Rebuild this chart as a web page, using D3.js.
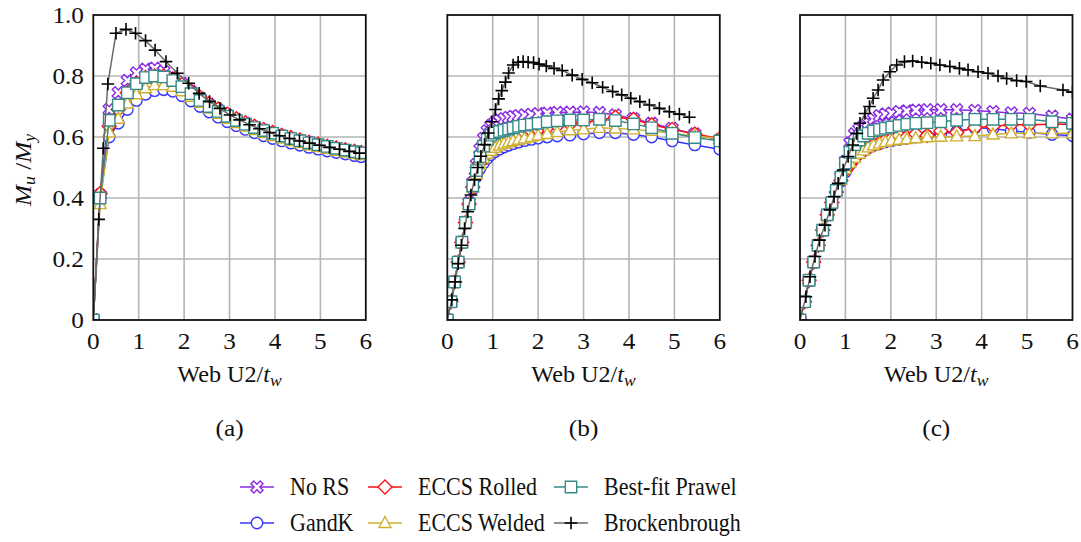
<!DOCTYPE html>
<html>
<head>
<meta charset="utf-8">
<script src="https://cdn.jsdelivr.net/npm/d3@7"></script>
<style>
  body { margin: 0; background: #fff; }
  text { font-family: "Liberation Serif", "Times New Roman", serif; fill: #111; }
</style>
</head>
<body>
<div id="chart"></div>
<script>
// ---------------- data ----------------
var xTicks = [0, 1, 2, 3, 4, 5, 6];
var yTicks = [0, 0.2, 0.4, 0.6, 0.8, 1.0];
var yTickLabels = ["0", "0.2", "0.4", "0.6", "0.8", "1.0"];
var panelLabels = ["(a)", "(b)", "(c)"];
var seriesNames = ["No RS", "GandK", "ECCS Rolled", "ECCS Welded", "Best-fit Prawel", "Brockenbrough"];

// panel (a)
var xA = [0, .15, .35, .55, .75, .95, 1.15, 1.35, 1.55, 1.75, 1.95, 2.15, 2.35, 2.55, 2.75, 2.95, 3.15, 3.35, 3.55, 3.75, 3.95, 4.15, 4.35, 4.55, 4.75, 4.95, 5.15, 5.35, 5.55, 5.75, 5.9];
var noRsA   = [0, .41, .69, .745, .785, .81, .822, .825, .815, .797, .775, .75, .727, .707, .689, .672, .657, .644, .632, .622, .612, .603, .595, .588, .581, .574, .568, .562, .556, .55, .546];
var gandkA  = [0, .40, .60, .645, .69, .72, .74, .752, .755, .75, .735, .718, .70, .682, .665, .65, .637, .625, .614, .604, .595, .587, .58, .573, .566, .56, .554, .549, .544, .539, .535];
var rolledA = [0, .415, .635, .69, .745, .775, .795, .80, .80, .79, .772, .752, .73, .71, .692, .675, .66, .647, .635, .625, .615, .606, .598, .59, .583, .576, .57, .564, .558, .553, .549];
var weldedA = [0, .38, .615, .66, .71, .74, .76, .77, .77, .765, .75, .732, .712, .693, .676, .66, .646, .634, .623, .613, .603, .595, .587, .58, .573, .567, .561, .555, .55, .545, .541];
var bestA   = [0, .40, .655, .705, .745, .775, .795, .80, .797, .785, .765, .742, .72, .70, .684, .668, .654, .642, .631, .621, .612, .603, .595, .588, .581, .575, .569, .563, .557, .552, .548];
var xBrockA = [0, .12, .22, .32, .5, .72, .93, 1.15, 1.36, 1.6, 1.85, 2.1, 2.33, 2.56, 2.79, 3.01, 3.22, 3.44, 3.66, 3.88, 4.1, 4.32, 4.54, 4.76, 4.98, 5.2, 5.42, 5.64, 5.86];
var brockA  = [0, .33, .563, .774, .94, .953, .94, .916, .885, .847, .809, .776, .743, .716, .694, .672, .656, .64, .627, .615, .604, .595, .587, .58, .573, .566, .56, .553, .547];

// panel (b)
var xB = [0, .08, .16, .24, .32, .4, .48, .56, .64, .72, .8, .88, .96, 1.05, 1.15, 1.25, 1.35, 1.45, 1.57, 1.7, 1.85, 2.0, 2.2, 2.42, 2.7, 3.0, 3.35, 3.7, 4.1, 4.5, 4.95, 5.45, 6.0];
var noRsB   = [0, .06, .125, .19, .255, .32, .385, .45, .51, .56, .595, .62, .637, .648, .655, .66, .664, .667, .67, .672, .674, .676, .678, .68, .681, .682, .68, .672, .66, .645, .628, .61, .59];
var gandkB  = [0, .06, .125, .19, .255, .32, .38, .43, .47, .497, .515, .53, .542, .552, .56, .567, .573, .578, .583, .588, .592, .596, .60, .603, .606, .61, .614, .614, .608, .60, .587, .574, .56];
var rolledB = [0, .06, .125, .19, .255, .32, .38, .435, .48, .515, .545, .56, .57, .58, .588, .595, .60, .605, .61, .615, .62, .624, .63, .636, .642, .648, .655, .665, .658, .64, .625, .61, .595];
var weldedB = [0, .06, .125, .19, .255, .32, .38, .435, .478, .51, .53, .545, .555, .565, .572, .578, .583, .587, .591, .595, .60, .605, .61, .616, .622, .625, .63, .628, .625, .62, .612, .603, .595];
var bestB   = [0, .06, .125, .19, .255, .32, .38, .44, .49, .535, .57, .592, .606, .613, .618, .622, .626, .63, .635, .639, .642, .645, .65, .653, .656, .656, .658, .654, .643, .63, .612, .598, .587];
var xBrockB = [0, .1, .17, .24, .31, .38, .45, .52, .6, .67, .74, .82, .9, .98, 1.06, 1.13, 1.2, 1.28, 1.35, 1.45, 1.56, 1.67, 1.78, 1.9, 2.02, 2.18, 2.35, 2.53, 2.75, 2.97, 3.19, 3.42, 3.64, 3.84, 4.04, 4.24, 4.45, 4.67, 4.89, 5.11, 5.33];
var brockB  = [0, .066, .125, .185, .245, .30, .355, .41, .46, .50, .537, .575, .613, .65, .69, .725, .752, .78, .81, .836, .845, .847, .845, .844, .839, .833, .825, .818, .803, .789, .778, .763, .749, .738, .727, .716, .705, .694, .683, .675, .665];

// panel (c)
var xC = [0, .1, .2, .3, .4, .5, .6, .7, .8, .9, 1.0, 1.1, 1.2, 1.3, 1.4, 1.5, 1.62, 1.75, 1.88, 2.02, 2.18, 2.35, 2.55, 2.8, 3.1, 3.45, 3.85, 4.25, 4.65, 5.05, 5.55, 6.0];
var noRsC   = [0, .06, .13, .19, .245, .295, .345, .385, .425, .47, .52, .58, .61, .625, .636, .648, .66, .67, .675, .678, .683, .685, .688, .689, .689, .689, .687, .683, .679, .677, .668, .658];
var gandkC  = [0, .06, .13, .19, .245, .295, .345, .385, .42, .455, .485, .51, .53, .545, .555, .564, .572, .578, .584, .588, .592, .596, .60, .604, .61, .618, .63, .628, .62, .615, .608, .604];
var rolledC = [0, .06, .13, .19, .245, .295, .345, .385, .42, .457, .49, .51, .53, .545, .556, .565, .575, .58, .59, .595, .605, .60, .61, .605, .62, .615, .63, .635, .64, .64, .642, .642];
var weldedC = [0, .06, .13, .19, .245, .295, .345, .385, .423, .46, .495, .515, .532, .545, .556, .566, .573, .579, .584, .588, .591, .593, .596, .599, .601, .602, .603, .608, .612, .612, .612, .612];
var bestC   = [0, .06, .13, .19, .245, .295, .345, .385, .425, .468, .515, .55, .575, .59, .603, .612, .62, .625, .629, .633, .638, .642, .645, .647, .65, .655, .658, .658, .658, .658, .65, .645];
var xBrockC = [0, .13, .22, .33, .43, .55, .66, .75, .84, .95, 1.06, 1.16, 1.25, 1.32, 1.43, 1.53, 1.61, 1.72, 1.83, 1.98, 2.13, 2.3, 2.48, 2.68, 2.88, 3.08, 3.3, 3.51, 3.7, 3.92, 4.14, 4.36, 4.55, 4.77, 4.98, 5.29, 5.79, 6.0];
var brockC  = [0, .076, .142, .208, .262, .311, .361, .404, .448, .492, .536, .574, .612, .645, .677, .70, .727, .754, .787, .814, .836, .847, .849, .845, .842, .836, .831, .825, .82, .814, .809, .80, .792, .785, .782, .767, .754, .747];

var panelData = [
  { xs: xA, xb: xBrockA, ys: [noRsA, gandkA, rolledA, weldedA, bestA], yb: brockA },
  { xs: xB, xb: xBrockB, ys: [noRsB, gandkB, rolledB, weldedB, bestB], yb: brockB },
  { xs: xC, xb: xBrockC, ys: [noRsC, gandkC, rolledC, weldedC, bestC], yb: brockC }
];

// ---------------- styles ----------------
var colors = ["#8a2be2", "#3535ff", "#ff1010", "#d0b030", "#368a88", "#000000"];
var lineColors = ["#8a2be2", "#3535ff", "#ff1010", "#d0b030", "#368a88", "#6a6a6a"];

// filled "X" marker outline (rotated plus)
function xMarkerPath(a, w) {
  var pts = [[-w,-a],[w,-a],[w,-w],[a,-w],[a,w],[w,w],[w,a],[-w,a],[-w,w],[-a,w],[-a,-w],[-w,-w]];
  var c = Math.SQRT1_2;
  return "M" + pts.map(function(p){ return [(p[0]-p[1])*c, (p[0]+p[1])*c].join(","); }).join("L") + "Z";
}
var markerPaths = [
  xMarkerPath(6.5, 2),
  null,
  "M0,-7L7,0L0,7L-7,0Z",
  "M0,-6.5L6,4.5L-6,4.5Z",
  "M-5.7,-5.7H5.7V5.7H-5.7Z",
  "M-6.3,0H6.3M0,-6.3V6.3"
];

function drawMarker(sel, i) {
  if (i === 1) {
    sel.append("circle").attr("r", 5.7)
      .attr("fill", "#fff").attr("stroke", colors[i]).attr("stroke-width", 1.4);
  } else {
    sel.append("path").attr("d", markerPaths[i])
      .attr("fill", i === 5 ? "none" : "#fff")
      .attr("stroke", colors[i]).attr("stroke-width", i === 5 ? 1.6 : 1.4);
  }
}

// ---------------- layout ----------------
var W = 1081, H = 542;
var plotTop = 15, plotBottom = 320, pw = 272.5;
var lefts = [93.3, 447.3, 800];
var stretch = 1.1;

var svg = d3.select("#chart").append("svg")
  .attr("width", W).attr("height", H);

function stretchedText(g, x, y, anchor, size) {
  return g.append("text")
    .attr("transform", "translate(" + x + "," + y + ") scale(" + stretch + ",1.04)")
    .attr("text-anchor", anchor)
    .style("font-size", size + "px");
}

panelData.forEach(function(pd, p) {
  var x = d3.scaleLinear().domain([0, 6]).range([lefts[p], lefts[p] + pw]);
  var y = d3.scaleLinear().domain([0, 1]).range([plotBottom, plotTop]);
  var g = svg.append("g");

  // grid
  g.selectAll(".vg").data(xTicks.slice(1, -1)).enter().append("line")
    .attr("x1", function(d){ return x(d); }).attr("x2", function(d){ return x(d); })
    .attr("y1", plotTop).attr("y2", plotBottom)
    .attr("stroke", "#b5b5b5").attr("stroke-width", 1.6);
  g.selectAll(".hg").data(yTicks.slice(1, -1)).enter().append("line")
    .attr("x1", lefts[p]).attr("x2", lefts[p] + pw)
    .attr("y1", function(d){ return y(d); }).attr("y2", function(d){ return y(d); })
    .attr("stroke", "#b5b5b5").attr("stroke-width", 1.6);

  // clip
  svg.append("clipPath").attr("id", "clip" + p).append("rect")
    .attr("x", lefts[p]).attr("y", plotTop).attr("width", pw).attr("height", plotBottom - plotTop);
  var plot = g.append("g").attr("clip-path", "url(#clip" + p + ")");

  var allSeries = pd.ys.map(function(ys, i){
    return { i: i, pts: pd.xs.map(function(xv, k){ return [xv, ys[k]]; }) };
  });
  allSeries.push({ i: 5, pts: pd.xb.map(function(xv, k){ return [xv, pd.yb[k]]; }) });

  var line = d3.line().x(function(d){ return x(d[0]); }).y(function(d){ return y(d[1]); });

  allSeries.forEach(function(s) {
    var sg = plot.append("g");
    sg.append("path").datum(s.pts).attr("d", line)
      .attr("fill", "none").attr("stroke", lineColors[s.i]).attr("stroke-width", 1.5);
    sg.selectAll(".m").data(s.pts).enter().append("g")
      .attr("transform", function(d){ return "translate(" + x(d[0]) + "," + y(d[1]) + ")"; })
      .each(function(){ drawMarker(d3.select(this), s.i); });
  });

  // frame
  g.append("rect").attr("x", lefts[p]).attr("y", plotTop).attr("width", pw).attr("height", plotBottom - plotTop)
    .attr("fill", "none").attr("stroke", "#111").attr("stroke-width", 1.8);

  // x tick labels
  xTicks.forEach(function(t) {
    stretchedText(g, x(t), 349, "middle", 23).text(t);
  });
  // x axis label
  var xl = stretchedText(g, lefts[p] + pw / 2, 382, "middle", 22);
  xl.append("tspan").text("Web U2/");
  xl.append("tspan").style("font-style", "italic").text("t");
  xl.append("tspan").style("font-style", "italic").style("font-size", "16px").attr("dy", 4).text("w");

  // panel label
  stretchedText(g, lefts[p] + pw / 2, 436, "middle", 23).text(panelLabels[p]);

  if (p === 0) {
    yTicks.forEach(function(t, k) {
      stretchedText(g, 84, y(t) + 7.5, "end", 23).text(yTickLabels[k]);
    });
    var yl = g.append("text")
      .attr("transform", "translate(31,170) rotate(-90) scale(" + stretch + ",1.04)")
      .attr("text-anchor", "middle").style("font-size", "23px");
    yl.append("tspan").style("font-style", "italic").text("M");
    yl.append("tspan").style("font-style", "italic").style("font-size", "16px").attr("dy", 4).text("u");
    yl.append("tspan").attr("dy", -4).text(" /");
    yl.append("tspan").style("font-style", "italic").text("M");
    yl.append("tspan").style("font-style", "italic").style("font-size", "16px").attr("dy", 4).text("y");
  }
});

// ---------------- legend ----------------
var legendCols = [240, 368, 554];
var legendRows = [487, 523];
var leg = svg.append("g");
seriesNames.forEach(function(name, i) {
  var cx = legendCols[Math.floor(i / 2)], cy = legendRows[i % 2];
  var item = leg.append("g");
  item.append("line").attr("x1", cx).attr("x2", cx + 34).attr("y1", cy).attr("y2", cy)
    .attr("stroke", lineColors[i]).attr("stroke-width", 1.5);
  var m = item.append("g").attr("transform", "translate(" + (cx + 17) + "," + cy + ")");
  drawMarker(m, i);
  item.append("text").attr("transform", "translate(" + (cx + 50) + "," + (cy + 8) + ") scale(1,1.12)")
    .style("font-size", "22px").text(name);
});
</script>
</body>
</html>
